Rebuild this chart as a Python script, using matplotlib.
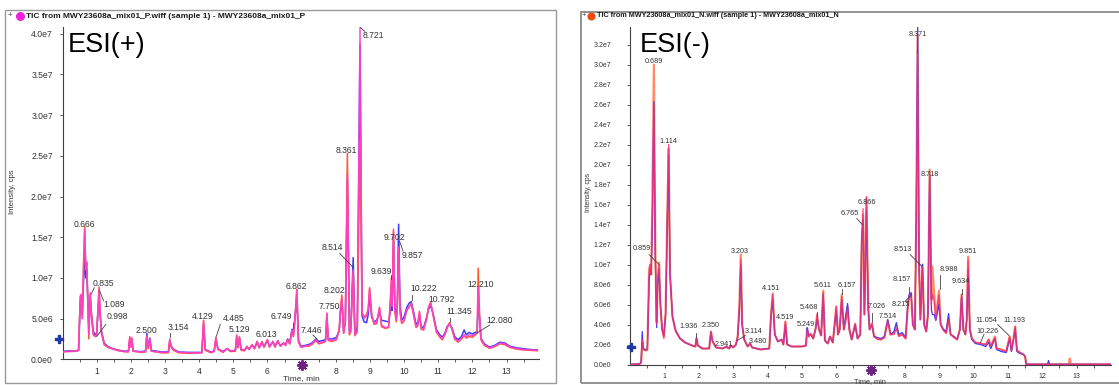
import numpy as np
import matplotlib
matplotlib.use("Agg")
import matplotlib.pyplot as plt
from matplotlib.patches import Rectangle
from matplotlib.lines import Line2D

plt.rcParams['font.family'] = ['Liberation Sans', 'DejaVu Sans']

# ---------------- DATA (intensities in units of 1e6 cps) ----------------
# ESI(+) panel
pos_time = [0.00, 0.10, 0.20, 0.30, 0.40, 0.47, 0.52, 0.55, 0.58, 0.62, 0.65, 0.68, 0.71, 0.74, 0.77,
            0.81, 0.85, 0.90, 0.95, 1.00, 1.04, 1.07, 1.10, 1.14, 1.22, 1.32, 1.45, 1.60, 1.80, 1.93,
            1.97, 2.00, 2.03, 2.07, 2.30, 2.43, 2.47, 2.51, 2.56, 2.60, 2.90, 3.10, 3.14, 3.18, 3.25,
            3.40, 3.70, 4.08, 4.13, 4.18, 4.35, 4.44, 4.49, 4.55, 4.70, 4.82, 4.92, 5.06, 5.10, 5.14,
            5.18, 5.23, 5.33, 5.40, 5.46, 5.55, 5.62, 5.70, 5.76, 5.84, 5.90, 6.00, 6.06, 6.16, 6.22,
            6.30, 6.38, 6.47, 6.53, 6.59, 6.65, 6.72, 6.76, 6.80, 6.86, 6.91, 6.98, 7.10, 7.20, 7.30,
            7.42, 7.50, 7.60, 7.70, 7.74, 7.78, 7.90, 8.02, 8.10, 8.14, 8.18, 8.23, 8.28, 8.34, 8.40,
            8.44, 8.51, 8.56, 8.63, 8.71, 8.77, 8.83, 8.90, 8.95, 8.99, 9.05, 9.12, 9.20, 9.28, 9.34,
            9.45, 9.55, 9.60, 9.63, 9.65, 9.69, 9.73, 9.77, 9.80, 9.84, 9.88, 9.93, 10.00, 10.08, 10.15,
            10.21, 10.28, 10.35, 10.40, 10.45, 10.50, 10.57, 10.65, 10.72, 10.78, 10.85, 10.95, 11.05, 11.12, 11.20,
            11.27, 11.33, 11.40, 11.48, 11.58, 11.68, 11.76, 11.82, 11.90, 12.00, 12.08, 12.14, 12.17, 12.21, 12.25,
            12.35, 12.50, 12.65, 12.80, 12.95, 13.10, 13.30, 13.50, 13.70, 13.90]
pos_magenta = [0.9, 0.95, 1.0, 0.95, 1.0, 1.1, 7.5, 8.0, 5.0, 12.0, 16.0, 11.5, 12.0, 7.0, 3.0,
               8.2, 5.0, 3.2, 2.8, 3.0, 6.0, 8.6, 6.0, 3.3, 1.9, 1.5, 1.3, 1.1, 0.95, 0.95,
               2.7, 1.5, 2.6, 1.0, 0.9, 0.95, 2.9, 1.4, 2.5, 1.0, 0.85, 0.85, 2.4, 1.6, 1.2,
               0.85, 0.8, 0.8, 4.7, 1.2, 0.85, 1.0, 2.6, 1.3, 0.9, 1.35, 1.0, 1.1, 2.9, 1.5,
               2.7, 1.2, 1.1, 1.6, 1.2, 1.8, 1.3, 2.2, 1.4, 2.1, 1.5, 2.4, 1.5, 2.2, 1.5,
               2.3, 1.6, 2.0, 1.7, 2.4, 1.9, 3.6, 2.8, 4.8, 8.5, 2.2, 1.5, 1.6, 1.7, 1.9,
               2.4, 2.0, 2.1, 2.2, 5.7, 2.4, 2.3, 2.5, 3.5, 6.0, 7.5, 3.2, 4.5, 22.8, 3.2,
               3.5, 11.0, 3.0, 3.5, 40.8, 5.6, 5.0, 5.3, 6.0, 8.7, 5.5, 4.4, 4.5, 6.3, 4.2,
               3.9, 4.0, 7.0, 9.8, 6.5, 15.7, 6.0, 4.8, 6.0, 13.8, 6.0, 4.5, 4.8, 6.1, 6.5,
               6.8, 5.5, 4.0, 4.2, 5.8, 3.8, 3.7, 4.8, 6.4, 6.9, 5.5, 3.4, 2.8, 2.5, 3.2,
               4.0, 4.4, 3.8, 2.6, 2.2, 2.6, 3.0, 2.7, 3.0, 2.9, 3.1, 3.3, 8.9, 5.0, 2.5,
               1.8, 1.4, 1.6, 2.0, 1.9, 1.5, 1.3, 1.2, 1.15, 1.1]
pos_blue = [1.0, 1.0, 1.05, 1.0, 1.05, 1.1, 7.0, 7.5, 5.5, 10.0, 12.5, 10.0, 11.0, 7.5, 4.0,
            7.8, 5.5, 3.5, 3.0, 3.2, 6.0, 7.8, 5.5, 3.5, 2.0, 1.6, 1.35, 1.15, 1.0, 1.0,
            2.5, 1.8, 2.4, 1.0, 0.95, 1.0, 3.2, 1.5, 2.6, 1.1, 0.9, 0.9, 2.2, 1.6, 1.25,
            0.9, 0.85, 0.85, 4.2, 1.2, 0.9, 1.0, 2.4, 1.3, 0.95, 1.3, 1.0, 1.1, 2.7, 1.5,
            2.6, 1.2, 1.15, 1.5, 1.25, 1.7, 1.4, 2.1, 1.5, 2.0, 1.6, 2.3, 1.6, 2.1, 1.6,
            2.2, 1.7, 2.0, 1.8, 2.5, 2.0, 3.7, 3.2, 4.9, 7.5, 2.3, 1.6, 1.7, 1.8, 2.0,
            2.5, 2.2, 2.3, 2.4, 5.0, 2.5, 2.5, 2.7, 3.5, 5.8, 7.2, 3.5, 4.5, 22.0, 3.5,
            3.8, 12.5, 3.2, 4.0, 38.6, 5.3, 4.6, 4.5, 5.5, 8.0, 5.2, 4.6, 4.8, 5.8, 4.8,
            4.7, 4.6, 6.0, 9.0, 6.0, 14.5, 6.5, 5.0, 6.5, 16.6, 7.0, 4.8, 5.2, 6.4, 6.9,
            7.1, 5.8, 4.3, 4.5, 5.4, 4.0, 3.9, 5.0, 6.2, 6.6, 5.6, 3.6, 3.0, 2.7, 3.3,
            4.1, 4.3, 3.9, 2.8, 2.4, 2.8, 3.6, 3.0, 3.3, 3.1, 3.3, 3.4, 7.0, 5.0, 2.6,
            1.9, 1.5, 1.7, 2.1, 2.0, 1.6, 1.4, 1.3, 1.2, 1.15]
pos_orange = [0.9, 0.95, 0.95, 1.0, 1.0, 1.1, 7.8, 7.8, 5.0, 12.5, 16.3, 11.0, 11.8, 7.0, 2.5,
              8.0, 5.2, 3.0, 2.8, 3.0, 6.5, 8.9, 6.0, 3.2, 1.8, 1.5, 1.3, 1.1, 0.95, 0.9,
              2.8, 1.5, 2.6, 1.0, 0.85, 0.9, 2.9, 1.3, 2.3, 1.0, 0.8, 0.8, 2.5, 1.5, 1.1,
              0.8, 0.75, 0.8, 4.8, 1.1, 0.8, 1.0, 2.7, 1.2, 0.85, 1.3, 0.95, 1.0, 3.0, 1.4,
              2.8, 1.1, 1.05, 1.6, 1.2, 1.8, 1.3, 2.2, 1.4, 2.2, 1.5, 2.4, 1.5, 2.2, 1.5,
              2.3, 1.6, 2.0, 1.7, 2.4, 1.9, 3.5, 2.8, 4.5, 8.6, 2.1, 1.5, 1.6, 1.6, 1.8,
              2.3, 1.9, 2.0, 2.2, 5.6, 2.3, 2.2, 2.4, 3.7, 6.5, 7.9, 3.2, 4.6, 25.3, 3.0,
              3.4, 10.8, 2.9, 3.4, 27.0, 5.8, 5.2, 5.5, 6.2, 8.8, 5.6, 4.3, 4.4, 6.4, 4.0,
              3.8, 3.9, 7.5, 10.0, 7.0, 16.0, 6.0, 4.6, 6.0, 13.5, 5.8, 4.4, 4.7, 6.0, 6.4,
              6.9, 5.4, 3.9, 4.1, 5.9, 3.7, 3.6, 4.8, 6.5, 7.0, 5.4, 3.3, 2.7, 2.4, 3.1,
              3.9, 4.5, 3.7, 2.5, 2.1, 2.5, 2.9, 2.6, 2.8, 2.7, 3.0, 3.2, 11.2, 5.5, 2.4,
              1.7, 1.35, 1.55, 1.9, 1.8, 1.45, 1.25, 1.15, 1.1, 1.05]

# ESI(-) panel
neg_time = [0.00, 0.28, 0.32, 0.35, 0.38, 0.45, 0.50, 0.55, 0.58, 0.61, 0.64, 0.69, 0.73, 0.77, 0.80,
            0.84, 0.88, 0.93, 0.98, 1.03, 1.08, 1.12, 1.16, 1.23, 1.32, 1.45, 1.60, 1.80, 1.90, 1.93,
            1.97, 2.10, 2.30, 2.35, 2.40, 2.50, 2.70, 2.80, 2.88, 2.94, 3.00, 3.08, 3.13, 3.18, 3.22,
            3.26, 3.32, 3.42, 3.49, 3.55, 3.80, 4.05, 4.10, 4.15, 4.21, 4.30, 4.41, 4.46, 4.52, 4.57,
            4.70, 5.00, 5.12, 5.15, 5.20, 5.26, 5.33, 5.40, 5.44, 5.50, 5.56, 5.62, 5.67, 5.75, 5.82,
            5.90, 6.00, 6.05, 6.10, 6.16, 6.22, 6.28, 6.33, 6.38, 6.45, 6.55, 6.62, 6.70, 6.74, 6.78,
            6.82, 6.88, 6.93, 6.97, 7.04, 7.10, 7.20, 7.30, 7.40, 7.50, 7.58, 7.68, 7.75, 7.82, 7.92,
            8.02, 8.08, 8.12, 8.18, 8.23, 8.29, 8.33, 8.37, 8.41, 8.45, 8.51, 8.56, 8.62, 8.67, 8.72,
            8.77, 8.80, 8.85, 8.90, 8.96, 8.99, 9.04, 9.12, 9.20, 9.27, 9.33, 9.42, 9.52, 9.60, 9.65,
            9.70, 9.76, 9.80, 9.84, 9.89, 9.95, 10.05, 10.20, 10.35, 10.44, 10.50, 10.62, 10.67, 10.80, 10.95,
            11.05, 11.10, 11.16, 11.21, 11.26, 11.35, 11.45, 11.50, 11.53, 12.15, 12.18, 12.21, 12.77, 12.80, 12.83,
            14.00]
neg_orange = [0.0, 0.05, 0.2, 2.2, 1.5, 1.4, 1.5, 9.5, 10.0, 9.0, 15.0, 30.0, 12.0, 4.2, 8.5,
              10.2, 6.0, 3.5, 2.8, 5.0, 15.0, 21.6, 9.0, 4.8, 3.4, 2.6, 2.2, 1.9, 1.8, 2.6,
              1.9, 1.6, 1.6, 3.3, 2.3, 1.7, 1.6, 1.8, 1.6, 1.9, 1.7, 2.0, 2.8, 6.0, 11.0,
              4.0, 2.5, 1.8, 2.1, 1.7, 1.5, 1.6, 5.0, 7.1, 3.0, 2.3, 2.5, 2.0, 4.3, 2.0,
              1.8, 1.8, 1.9, 3.6, 2.8, 3.1, 2.6, 3.6, 4.8, 3.5, 2.9, 7.4, 2.4, 2.1, 2.8,
              2.2, 5.8, 3.0, 3.5, 7.0, 3.5, 4.5, 5.8, 3.5, 2.5, 4.1, 2.6, 3.0, 12.0, 15.0,
              5.0, 16.7, 6.0, 3.5, 4.1, 2.8, 2.6, 2.5, 2.7, 4.4, 3.0, 3.1, 3.8, 2.9, 3.0,
              2.6, 5.5, 6.8, 7.0, 4.0, 3.5, 15.0, 33.0, 10.0, 4.5, 10.0, 4.0, 3.3, 5.0, 19.5,
              6.5, 9.8, 7.0, 4.6, 6.5, 7.4, 4.0, 3.5, 3.2, 4.6, 3.0, 2.8, 2.5, 3.5, 7.0,
              3.5, 3.0, 4.5, 10.8, 3.5, 2.6, 2.2, 2.1, 2.0, 2.5, 1.8, 2.8, 1.6, 1.5, 1.3,
              2.8, 1.4, 2.5, 3.8, 1.4, 1.2, 1.0, 0.8, 0.02, 0.02, 0.02, 0.02, 0.02, 0.6, 0.02,
              0.02]
neg_blue = [0.0, 0.05, 0.3, 3.3, 1.6, 1.5, 1.5, 8.5, 9.5, 9.0, 13.0, 26.3, 11.0, 3.7, 8.0,
            9.5, 6.0, 3.5, 2.9, 5.0, 14.0, 21.0, 9.0, 4.8, 3.4, 2.6, 2.2, 1.9, 1.8, 2.7,
            1.9, 1.6, 1.6, 3.2, 2.3, 1.7, 1.6, 1.8, 1.6, 1.9, 1.7, 2.0, 2.8, 5.5, 10.0,
            4.0, 2.5, 1.8, 2.1, 1.7, 1.5, 1.6, 4.8, 6.5, 3.0, 2.3, 2.5, 2.0, 4.0, 2.0,
            1.8, 1.8, 1.9, 3.7, 2.9, 3.0, 2.6, 3.6, 4.6, 3.5, 2.9, 7.0, 2.4, 2.1, 2.8,
            2.2, 5.5, 3.0, 3.5, 6.5, 3.5, 5.0, 6.1, 3.6, 2.5, 4.0, 2.6, 3.0, 12.5, 14.5,
            5.0, 15.5, 5.5, 3.5, 4.0, 2.8, 2.7, 2.6, 2.8, 4.5, 3.0, 3.3, 4.2, 3.0, 3.2,
            2.7, 6.0, 7.0, 7.2, 4.0, 3.5, 15.0, 33.8, 10.0, 4.5, 10.0, 4.0, 3.3, 5.0, 19.0,
            5.5, 5.0, 5.0, 4.4, 5.5, 6.0, 4.0, 3.5, 3.3, 5.1, 3.0, 2.8, 2.5, 3.5, 6.8,
            3.5, 3.0, 4.5, 9.5, 3.5, 2.5, 2.1, 2.0, 1.8, 2.2, 1.6, 2.6, 1.5, 1.3, 1.2,
            2.6, 1.3, 2.5, 3.6, 1.3, 1.1, 1.0, 0.8, 0.02, 0.02, 0.4, 0.02, 0.02, 0.02, 0.02,
            0.02]
neg_red = [0.0, 0.05, 0.2, 2.5, 1.5, 1.4, 1.5, 9.0, 10.0, 9.0, 14.0, 26.0, 11.0, 4.0, 8.5,
           10.0, 5.8, 3.5, 2.6, 5.0, 15.0, 22.0, 9.0, 4.8, 3.4, 2.6, 2.2, 1.9, 1.8, 2.6,
           1.9, 1.6, 1.6, 3.3, 2.3, 1.7, 1.6, 1.8, 1.6, 1.9, 1.7, 2.0, 2.8, 6.0, 10.5,
           4.0, 2.5, 1.8, 2.1, 1.7, 1.5, 1.6, 5.0, 7.0, 3.0, 2.3, 2.5, 2.0, 4.3, 2.0,
           1.8, 1.8, 1.9, 3.4, 2.8, 3.0, 2.6, 3.6, 5.1, 3.5, 2.9, 7.2, 2.4, 2.1, 2.8,
           2.2, 5.8, 3.0, 3.5, 6.8, 3.5, 4.5, 5.6, 3.5, 2.5, 4.0, 2.6, 3.0, 12.0, 15.6,
           5.0, 16.8, 6.0, 3.5, 4.1, 2.8, 2.5, 2.5, 2.7, 4.3, 3.0, 3.0, 3.6, 2.8, 3.0,
           2.6, 5.5, 6.7, 7.0, 4.0, 3.5, 15.0, 31.0, 10.0, 4.5, 9.8, 4.0, 3.3, 5.0, 19.3,
           6.0, 7.0, 6.5, 4.5, 6.2, 7.0, 4.0, 3.4, 3.1, 4.5, 3.0, 2.7, 2.5, 3.5, 7.0,
           3.5, 3.0, 4.5, 10.5, 3.5, 2.6, 2.2, 2.1, 2.0, 2.5, 1.8, 2.7, 1.6, 1.5, 1.3,
           2.8, 1.4, 2.5, 3.8, 1.4, 1.2, 1.0, 0.8, 0.02, 0.02, 0.02, 0.02, 0.02, 0.02, 0.02,
           0.02]

# axis ticks and labels
pos_yticks = [0, 5e6, 1e7, 1.5e7, 2e7, 2.5e7, 3e7, 3.5e7, 4e7]
pos_yticklabels = ["0.0e0", "5.0e6", "1.0e7", "1.5e7", "2.0e7", "2.5e7", "3.0e7", "3.5e7", "4.0e7"]
neg_yticks = [0, 2e6, 4e6, 6e6, 8e6, 1e7, 1.2e7, 1.4e7, 1.6e7, 1.8e7, 2e7, 2.2e7, 2.4e7, 2.6e7,
              2.8e7, 3e7, 3.2e7]
neg_yticklabels = ["0.0e0", "2.0e6", "4.0e6", "6.0e6", "8.0e6", "1.0e7", "1.2e7", "1.4e7", "1.6e7",
                   "1.8e7", "2.0e7", "2.2e7", "2.4e7", "2.6e7", "2.8e7", "3.0e7", "3.2e7"]
xticks = [1, 2, 3, 4, 5, 6, 7, 8, 9, 10, 11, 12, 13]
xticklabels = ["1", "2", "3", "4", "5", "6", "", "8", "9", "10", "11", "12", "13"]  # 7 hidden by marker

# peak labels: (text, label x, label y [1e6], leader (x0, y0, x1, y1) or None)
pos_peaks = [
    ("0.666", 0.64, 16.6, None), ("0.835", 1.2, 9.3, (0.93, 8.8, 0.84, 8.0)),
    ("1.089", 1.5, 6.7, (1.2, 7.2, 1.09, 8.4)), ("0.998", 1.6, 5.2, (1.27, 4.3, 1.0, 2.8)),
    ("2.500", 2.47, 3.6, None), ("3.154", 3.38, 3.9, (3.15, 2.7, 3.15, 3.2)),
    ("4.129", 4.09, 5.3, None), ("4.485", 5.0, 5.0, (4.62, 4.3, 4.5, 2.8)),
    ("5.129", 5.17, 3.7, None), ("6.013", 5.98, 3.0, None),
    ("6.749", 6.4, 5.2, (6.75, 3.8, 6.75, 4.4)), ("6.862", 6.85, 9.0, None),
    ("7.446", 7.28, 3.6, (7.33, 3.0, 7.45, 2.5)), ("7.750", 7.82, 6.5, None),
    ("8.202", 7.96, 8.5, None), ("8.361", 8.32, 25.7, None),
    ("8.514", 7.9, 13.7, (8.12, 13.0, 8.51, 11.3)), ("8.721", 9.11, 39.8, (8.85, 40.3, 8.72, 40.8)),
    ("9.639", 9.34, 10.8, (9.63, 10.4, 9.63, 9.9)), ("9.702", 9.71, 15.0, None),
    ("9.857", 10.24, 12.7, (9.87, 14.5, 9.97, 13.3)), ("10.222", 10.57, 8.7, (10.22, 7.3, 10.22, 7.9)),
    ("10.792", 11.1, 7.3, None), ("11.345", 11.62, 5.9, (11.33, 4.6, 11.33, 5.1)),
    ("12.210", 12.23, 9.2, None), ("12.080", 12.8, 4.8, (12.5, 4.2, 12.12, 3.2)),
]
neg_peaks = [
    ("0.689", 0.69, 30.3, None), ("1.114", 1.12, 22.3, None), ("8.371", 8.37, 33.0, None),
    ("8.718", 8.72, 19.0, None), ("0.859", 0.33, 11.6, (0.55, 11.0, 0.84, 10.0)),
    ("3.203", 3.18, 11.3, None), ("6.765", 6.38, 15.1, (6.6, 14.6, 6.76, 14.0)),
    ("6.866", 6.88, 16.2, None), ("8.513", 7.95, 11.5, (8.15, 11.0, 8.5, 9.8)),
    ("8.988", 9.27, 9.5, (9.03, 7.6, 9.03, 9.0)), ("9.851", 9.84, 11.3, None),
    ("9.634", 9.63, 8.3, (9.65, 7.1, 9.65, 7.6)), ("8.157", 7.9, 8.5, (8.13, 7.2, 8.13, 7.8)),
    ("8.215", 7.87, 6.0, (8.0, 6.3, 8.2, 7.0)), ("7.026", 7.19, 5.8, (7.04, 4.3, 7.04, 5.2)),
    ("7.514", 7.5, 4.8, None), ("6.157", 6.31, 7.9, (6.16, 7.1, 6.16, 7.6)),
    ("5.611", 5.59, 7.9, None), ("5.468", 5.19, 5.7, (5.45, 4.9, 5.45, 5.3)),
    ("5.249", 5.12, 4.0, None), ("4.151", 4.11, 7.6, None), ("4.519", 4.52, 4.7, None),
    ("3.114", 3.59, 3.3, (3.35, 2.9, 3.12, 2.4)), ("3.480", 3.72, 2.3, None),
    ("2.941", 2.73, 2.0, None), ("2.350", 2.34, 3.9, None),
    ("1.936", 1.7, 3.8, (1.93, 2.8, 1.93, 3.2)), ("11.054", 10.36, 4.4, (10.7, 4.0, 11.03, 2.9)),
    ("11.193", 11.19, 4.4, None), ("10.226", 10.41, 3.3, (10.3, 3.0, 10.2, 2.2)),
]

W, H = 1119, 385
fig = plt.figure(figsize=(W / 100, H / 100), dpi=100)
fig.patch.set_facecolor('white')

def fx(px):
    return px / W

def fy(py):
    return 1 - py / H

# panel frames
fig.patches.append(Rectangle((fx(5), fy(383)), fx(551), (373) / H, transform=fig.transFigure,
                             fill=False, edgecolor='#9a9a9a', lw=1.0))
fig.patches.append(Rectangle((fx(581), fy(383)), fx(560), (371.5) / H, transform=fig.transFigure,
                             fill=False, edgecolor='#8a8a8a', lw=1.3))

TXT = '#333333'


def setup_axes(ax, xmax, ymax, yticks, ylabels, fs_tick, ypad, xpad):
    ax.set_xlim(0, xmax)
    ax.set_ylim(0, ymax)
    for s in ['top', 'right']:
        ax.spines[s].set_visible(False)
    for s in ['left', 'bottom']:
        ax.spines[s].set_color('#404040')
        ax.spines[s].set_linewidth(0.8)
    ax.set_xticks(xticks)
    ax.set_xticklabels(xticklabels)
    ax.set_xticks([v + 0.5 for v in range(0, 14)], minor=True)
    ax.set_yticks(yticks)
    ax.set_yticklabels(ylabels)
    ax.tick_params(axis='both', which='major', labelsize=fs_tick, colors='#404040',
                   labelcolor=TXT, length=2.5, width=0.6)
    ax.tick_params(axis='x', which='major', pad=xpad)
    ax.tick_params(axis='y', which='major', pad=ypad)
    ax.tick_params(axis='x', which='minor', length=2.5, width=0.6, colors='#404040')
    ax.tick_params(axis='y', which='minor', length=0)


def add_peaks(ax, peaks, fs):
    for name, lx, ly, lead in peaks:
        ax.text(lx, ly * 1e6, name, fontsize=fs, color=TXT, ha='center', va='center', zorder=6)
        if lead is not None:
            x0, y0, x1, y1 = lead
            ax.plot([x0, x1], [y0 * 1e6, y1 * 1e6], color='#404040', lw=0.6, zorder=6)


# ---------------- ESI(+) ----------------
ax1 = fig.add_axes([fx(62.5), fy(359.3), fx(539 - 62.5), (359.3 - 27.3) / H])
t = np.array(pos_time)
ax1.plot(t, np.array(pos_blue) * 1e6, color='#3b3bff', lw=1.1, zorder=2)
ax1.plot(t, np.array(pos_orange) * 1e6, color='#ff5a28', lw=1.1, zorder=3)
ax1.plot(t, np.array(pos_magenta) * 1e6, color='#ff3fd2', lw=1.1, alpha=0.9, zorder=4)
setup_axes(ax1, 13.95, 4.08e7, pos_yticks, pos_yticklabels, 6.2, 4.5, 3.0)
add_peaks(ax1, pos_peaks, 6.2)
ax1.text(0.012, 0.985, "ESI(+)", transform=ax1.transAxes, fontsize=19.5, color='black',
         ha='left', va='top')
ax1.plot([-0.008], [0.0615], marker='P', color='#1f3aa8', ms=5.5, transform=ax1.transAxes,
         clip_on=False, zorder=7)
ax1.plot([7.0], [-0.018], marker=(8, 2, 0), color='#6e2380', ms=7.5, mew=1.4,
         transform=ax1.get_xaxis_transform(), clip_on=False, zorder=7)
fig.text(fx(12.5), fy(192), "Intensity, cps", rotation=90, fontsize=5.6, color=TXT,
         ha='center', va='center')
fig.text(fx(301), fy(379), "Time, min", fontsize=6.0, color=TXT, ha='center', va='center')
fig.text(fx(10), fy(16), "+", fontsize=6, color='#444444', ha='center', va='center')
fig.lines.append(Line2D([fx(19.5)], [fy(16)], marker='o', color='#ee22dd', ms=5.5,
                        transform=fig.transFigure))
fig.text(fx(26), fy(16), "TIC from MWY23608a_mix01_P.wiff (sample 1) - MWY23608a_mix01_P",
         fontsize=6.05, color='#1a1a1a', ha='left', va='center', fontweight='bold')

# ---------------- ESI(-) ----------------
ax2 = fig.add_axes([fx(630.2), fy(364.5), fx(1111 - 630.2), (364.5 - 26.7) / H])
tn = np.array(neg_time)
ax2.plot(tn, np.array(neg_orange) * 1e6, color='#ff8c66', lw=1.6, zorder=2)
ax2.plot(tn, np.array(neg_blue) * 1e6, color='#3b3bff', lw=0.9, zorder=3)
ax2.plot(tn, np.array(neg_red) * 1e6, color='#ff2d6a', lw=0.9, alpha=0.85, zorder=4)
setup_axes(ax2, 14.0, 3.38e7, neg_yticks, neg_yticklabels, 5.0, 11.0, 3.5)
add_peaks(ax2, neg_peaks, 5.2)
ax2.text(0.02, 0.985, "ESI(-)", transform=ax2.transAxes, fontsize=19.5, color='black',
         ha='left', va='top')
ax2.plot([0.002], [0.051], marker='P', color='#1f3aa8', ms=5.5, transform=ax2.transAxes,
         clip_on=False, zorder=7)
ax2.plot([7.0], [-0.017], marker=(8, 2, 0), color='#6e2380', ms=7.5, mew=1.4,
         transform=ax2.get_xaxis_transform(), clip_on=False, zorder=7)
fig.text(fx(588.5), fy(193), "Intensity, cps", rotation=90, fontsize=4.9, color=TXT,
         ha='center', va='center')
fig.text(fx(870), fy(381.5), "Time, min", fontsize=5.3, color=TXT, ha='center', va='center')
fig.text(fx(584), fy(15.7), "+", fontsize=5.5, color='#444444', ha='center', va='center')
fig.lines.append(Line2D([fx(590.5)], [fy(15.7)], marker='o', color='#f04a10', ms=4.8,
                        transform=fig.transFigure))
fig.text(fx(597), fy(15.7), "TIC from MWY23608a_mix01_N.wiff (sample 1) - MWY23608a_mix01_N",
         fontsize=5.2, color='#1a1a1a', ha='left', va='center', fontweight='bold')

fig.savefig("out.png", dpi=100, facecolor='white')
